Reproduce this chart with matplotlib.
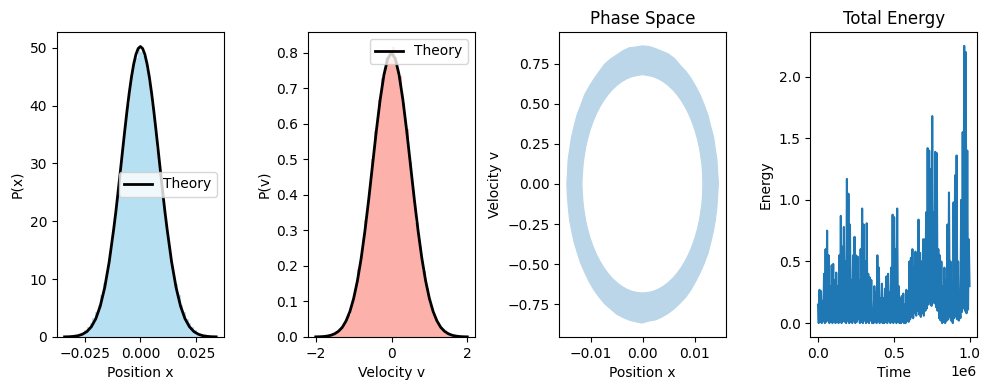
import numpy as np
import matplotlib
matplotlib.use('Agg')
import matplotlib.pyplot as plt
from matplotlib.path import Path
from matplotlib.patches import PathPatch

# --- position histogram (50 bins between -0.03 and 0.03) ---
pos_hist_left = [0.14, 0.29, 0.48, 0.74, 1.20, 1.70, 2.35, 3.25, 4.40, 5.50, 7.20, 9.40, 10.7,
                 13.6, 16.8, 20.3, 24.2, 28.4, 32.3, 36.8, 40.2, 43.8, 46.8, 48.2, 49.7]
pos_hist_right = [49.2, 48.6, 46.3, 44.1, 40.4, 37.2, 32.5, 28.7, 24.0, 20.6, 16.7, 13.8, 10.9,
                  9.20, 7.30, 5.60, 4.30, 3.15, 2.40, 1.65, 1.15, 0.76, 0.45, 0.27, 0.16]
pos_theory_x = [-0.034, -0.032, -0.030, -0.028, -0.026, -0.024, -0.022, -0.020, -0.018, -0.016,
                -0.014, -0.012, -0.011, -0.010, -0.009, -0.008, -0.007, -0.006, -0.005, -0.004,
                -0.003, -0.002, -0.001, 0.0, 0.001, 0.002, 0.003, 0.004, 0.005, 0.006, 0.007,
                0.008, 0.009, 0.010, 0.011, 0.012, 0.014, 0.016, 0.018, 0.020, 0.022, 0.024,
                0.026, 0.028, 0.030, 0.032, 0.034]
pos_theory_p = [0.02, 0.04, 0.10, 0.22, 0.47, 0.93, 1.77, 3.16, 5.35, 8.56, 12.97, 18.58, 21.67,
                25.09, 28.61, 32.19, 35.71, 39.11, 42.22, 44.94, 47.17, 48.83, 49.85, 50.2,
                49.85, 48.83, 47.17, 44.94, 42.22, 39.11, 35.71, 32.19, 28.61, 25.09, 21.67,
                18.58, 12.97, 8.56, 5.35, 3.16, 1.77, 0.93, 0.47, 0.22, 0.10, 0.04, 0.02]
pos_ticks = [-0.025, 0.0, 0.025]

# --- velocity histogram (40 bins between -1.8 and 1.8) ---
vel_hist_left = [0.002, 0.003, 0.007, 0.009, 0.018, 0.026, 0.043, 0.062, 0.097, 0.134, 0.190,
                 0.248, 0.329, 0.405, 0.500, 0.580, 0.668, 0.728, 0.785, 0.805]
vel_hist_right = [0.818, 0.776, 0.735, 0.660, 0.586, 0.492, 0.412, 0.322, 0.254, 0.185, 0.138,
                  0.093, 0.066, 0.040, 0.028, 0.016, 0.011, 0.005, 0.004, 0.001]
vel_theory_v = [-2.0, -1.9, -1.8, -1.7, -1.6, -1.5, -1.4, -1.3, -1.2, -1.1, -1.0, -0.9, -0.8,
                -0.7, -0.6, -0.5, -0.4, -0.3, -0.2, -0.1, 0.0, 0.1, 0.2, 0.3, 0.4, 0.5, 0.6,
                0.7, 0.8, 0.9, 1.0, 1.1, 1.2, 1.3, 1.4, 1.5, 1.6, 1.7, 1.8, 1.9, 2.0]
vel_theory_p = [0.0003, 0.0006, 0.0012, 0.0025, 0.0048, 0.009, 0.016, 0.027, 0.045, 0.071,
                0.108, 0.158, 0.222, 0.300, 0.389, 0.485, 0.581, 0.668, 0.738, 0.784, 0.800,
                0.784, 0.738, 0.668, 0.581, 0.485, 0.389, 0.300, 0.222, 0.158, 0.108, 0.071,
                0.045, 0.027, 0.016, 0.009, 0.0048, 0.0025, 0.0012, 0.0006, 0.0003]

# --- phase space band: outer and inner edge of the trajectory cloud ---
outer_x = [0.01460, 0.01446, 0.01432, 0.01398, 0.01366, 0.01310, 0.01260, 0.01185, 0.01108,
           0.01028, 0.00928, 0.00836, 0.00722, 0.00616, 0.00494, 0.00378, 0.00250, 0.00128,
           0.00000,
           -0.00126, -0.00254, -0.00373, -0.00498, -0.00610, -0.00728, -0.00830, -0.00935,
           -0.01022, -0.01114, -0.01186, -0.01258, -0.01312, -0.01366, -0.01398, -0.01430,
           -0.01442, -0.01455,
           -0.01446, -0.01426, -0.01403, -0.01360, -0.01316, -0.01255, -0.01190, -0.01110,
           -0.01026, -0.00932, -0.00834, -0.00726, -0.00612, -0.00497, -0.00376, -0.00252,
           -0.00127, -0.00010,
           0.00125, 0.00255, 0.00374, 0.00498, 0.00614, 0.00722, 0.00833, 0.00936, 0.01026,
           0.01110, 0.01188, 0.01260, 0.01315, 0.01365, 0.01402, 0.01430, 0.01445]
outer_v = [0.000, 0.074, 0.148, 0.224, 0.296, 0.361, 0.428, 0.495, 0.556, 0.606, 0.662, 0.702,
           0.742, 0.783, 0.812, 0.828, 0.845, 0.858, 0.862,
           0.855, 0.850, 0.832, 0.805, 0.781, 0.748, 0.703, 0.655, 0.610, 0.556, 0.491, 0.432,
           0.365, 0.292, 0.222, 0.152, 0.076, 0.000,
           -0.075, -0.150, -0.224, -0.296, -0.362, -0.428, -0.494, -0.552, -0.610, -0.662,
           -0.706, -0.748, -0.780, -0.812, -0.833, -0.850, -0.860, -0.868,
           -0.855, -0.848, -0.830, -0.806, -0.777, -0.744, -0.706, -0.658, -0.606, -0.552,
           -0.495, -0.432, -0.362, -0.294, -0.222, -0.150, -0.074]
inner_x = [0.01160, 0.01156, 0.01143, 0.01120, 0.01090, 0.01051, 0.01005, 0.00950, 0.00889,
           0.00820, 0.00746, 0.00665, 0.00580, 0.00490, 0.00397, 0.00300, 0.00201, 0.00101,
           0.00000,
           -0.00101, -0.00201, -0.00300, -0.00397, -0.00490, -0.00580, -0.00665, -0.00746,
           -0.00820, -0.00889, -0.00950, -0.01005, -0.01051, -0.01090, -0.01120, -0.01143,
           -0.01156, -0.01165,
           -0.01156, -0.01143, -0.01120, -0.01090, -0.01051, -0.01005, -0.00950, -0.00889,
           -0.00820, -0.00746, -0.00665, -0.00580, -0.00490, -0.00397, -0.00300, -0.00201,
           -0.00101, 0.00000,
           0.00101, 0.00201, 0.00300, 0.00397, 0.00490, 0.00580, 0.00665, 0.00746, 0.00820,
           0.00889, 0.00950, 0.01005, 0.01051, 0.01090, 0.01120, 0.01143, 0.01156]
inner_v = [0.000, 0.059, 0.118, 0.176, 0.233, 0.287, 0.340, 0.390, 0.437, 0.481, 0.521, 0.557,
           0.589, 0.616, 0.639, 0.657, 0.670, 0.677, 0.682,
           0.677, 0.670, 0.657, 0.639, 0.616, 0.589, 0.557, 0.521, 0.481, 0.437, 0.390, 0.340,
           0.287, 0.233, 0.176, 0.118, 0.059, 0.000,
           -0.059, -0.118, -0.176, -0.233, -0.287, -0.340, -0.390, -0.437, -0.481, -0.521,
           -0.557, -0.589, -0.616, -0.639, -0.657, -0.670, -0.677, -0.680,
           -0.677, -0.670, -0.657, -0.639, -0.616, -0.589, -0.557, -0.521, -0.481, -0.437,
           -0.390, -0.340, -0.287, -0.233, -0.176, -0.118, -0.059]

# --- total energy: local maxima / minima of the fast oscillation ---
energy_peaks = [0.15, 0.27, 0.26, 0.18, 0.40, 0.60, 0.75, 0.55, 0.30, 0.47, 0.48, 0.35, 0.41,
                0.30, 0.55, 0.87, 0.62, 0.78, 0.50, 1.17, 1.05, 0.80, 0.35, 0.55, 0.70, 0.55,
                0.54, 0.35, 0.60, 0.93, 0.80, 0.50, 0.81, 0.40, 0.37, 0.35, 0.10, 0.30, 0.25,
                0.55, 0.45, 0.20, 0.32, 0.20, 0.28, 0.38, 0.40, 0.25, 0.45, 0.88, 0.86, 0.60,
                0.93, 0.30, 0.20, 0.22, 0.24, 0.15, 0.27, 0.26, 0.50, 0.53, 0.60, 0.45, 0.58,
                0.40, 0.84, 0.57, 0.50, 0.68, 0.68, 0.90, 1.42, 1.40, 1.25, 1.68, 0.90, 1.39,
                1.38, 0.60, 0.55, 0.50, 0.30, 0.45, 0.35, 0.80, 1.06, 0.50, 0.25, 0.98, 1.20,
                1.36, 0.50, 0.25, 1.00, 1.55, 2.25, 2.20, 1.40, 0.68]
energy_troughs = [0.00, 0.01, 0.00, 0.02, 0.00, 0.01, 0.03, 0.00, 0.01, 0.00, 0.02, 0.00, 0.01,
                  0.00, 0.03, 0.00, 0.02, 0.01, 0.00, 0.02, 0.00, 0.01, 0.00, 0.02, 0.00, 0.01,
                  0.03, 0.00, 0.01, 0.00, 0.02, 0.00, 0.01, 0.00, 0.02, 0.00, 0.00, 0.01, 0.00,
                  0.02, 0.00, 0.01, 0.00, 0.00, 0.01, 0.00, 0.02, 0.00, 0.01, 0.00, 0.02, 0.00,
                  0.01, 0.00, 0.00, 0.01, 0.00, 0.00, 0.02, 0.01, 0.03, 0.05, 0.04, 0.08, 0.06,
                  0.10, 0.07, 0.05, 0.08, 0.06, 0.10, 0.12, 0.15, 0.18, 0.14, 0.20, 0.16, 0.13,
                  0.10, 0.04, 0.02, 0.00, 0.01, 0.00, 0.02, 0.03, 0.05, 0.02, 0.00, 0.04, 0.06,
                  0.03, 0.02, 0.04, 0.09, 0.12, 0.10, 0.08, 0.11, 0.30]
t_end = 1.0e6

fig, axes = plt.subplots(1, 4, figsize=(9.9, 3.9), dpi=100)
fig.subplots_adjust(left=0.0576, right=0.987, top=0.918, bottom=0.136, wspace=0.506)

# position distribution
ax = axes[0]
pos_h = pos_hist_left + pos_hist_right
pos_edges = np.linspace(-0.03, 0.03, len(pos_h) + 1)
ax.hist(pos_edges[:-1], bins=pos_edges, weights=pos_h, color='skyblue', alpha=0.6)
ax.plot(pos_theory_x, pos_theory_p, 'k-', lw=2, label='Theory')
ax.set_xticks(pos_ticks)
ax.set_xlabel('Position x')
ax.set_ylabel('P(x)')
ax.legend(loc='center right')

# velocity distribution
ax = axes[1]
vel_h = vel_hist_left + vel_hist_right
vel_edges = np.linspace(-1.8, 1.8, len(vel_h) + 1)
ax.hist(vel_edges[:-1], bins=vel_edges, weights=vel_h, color='salmon', alpha=0.6)
ax.plot(vel_theory_v, vel_theory_p, 'k-', lw=2, label='Theory')
ax.set_xlabel('Velocity v')
ax.set_ylabel('P(v)')
ax.legend(loc='upper right')

# phase space band
ax = axes[2]
outer = list(zip(outer_x, outer_v))
inner = list(zip(inner_x, inner_v))[::-1]
verts = outer + [outer[0]] + inner + [inner[0]]
codes = ([Path.MOVETO] + [Path.LINETO] * (len(outer) - 1) + [Path.CLOSEPOLY]
         + [Path.MOVETO] + [Path.LINETO] * (len(inner) - 1) + [Path.CLOSEPOLY])
band = PathPatch(Path(verts, codes), facecolor='#bbd6e8', edgecolor='#bbd6e8', lw=0.8)
ax.add_patch(band)
ax.autoscale_view()
ax.set_xlabel('Position x')
ax.set_ylabel('Velocity v')
ax.set_title('Phase Space')

# total energy (fast oscillation between troughs and peaks)
ax = axes[3]
energy = np.column_stack([energy_peaks, energy_troughs]).ravel()
time = np.linspace(0, t_end, len(energy))
ax.plot(time, energy)
ax.set_xlabel('Time')
ax.set_ylabel('Energy')
ax.set_title('Total Energy')

plt.savefig('out.png')
